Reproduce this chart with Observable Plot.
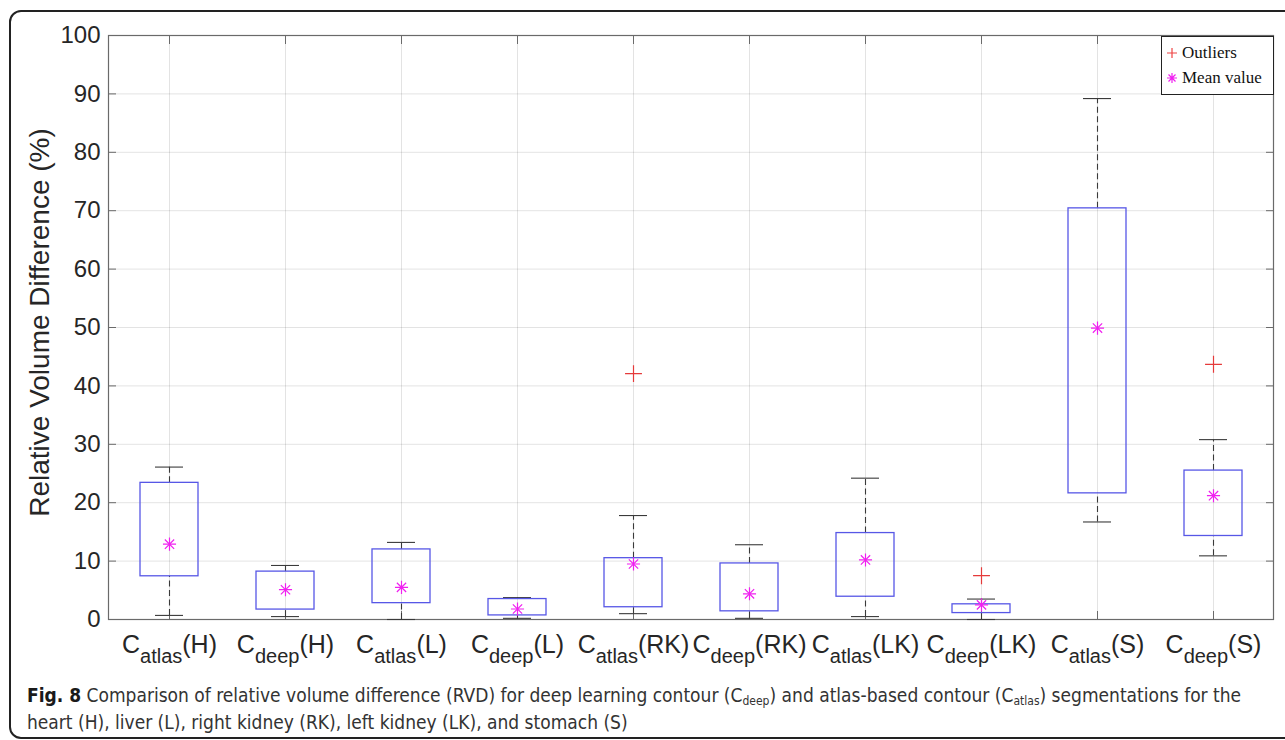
<!DOCTYPE html>
<html>
<head>
<meta charset="utf-8">
<script src="https://cdn.jsdelivr.net/npm/d3@7"></script>
<script src="https://cdn.jsdelivr.net/npm/@observablehq/plot@0.6"></script>
<style>
  body { margin: 0; background: #fff; width: 1285px; height: 740px; overflow: hidden; position: relative; }
  #frame { position: absolute; left: 9px; top: 10px; width: 1300px; height: 729px; border: 2px solid #222; border-radius: 12px; box-sizing: border-box; }
  #chart { position: absolute; left: 0; top: 0; }
  #legend { position: absolute; left: 1161px; top: 36px; width: 113px; height: 59px; border: 1px solid #222; background: #fff; box-sizing: border-box;
            font-family: "Liberation Serif", "Times New Roman", serif; font-size: 17px; color: #111; }
  #legend .row { position: absolute; left: 0; height: 22px; line-height: 22px; white-space: nowrap; }
  #legend svg { position: absolute; left: 4px; top: 5px; }
  #legend span { position: absolute; left: 20px; }
  #caption { position: absolute; left: 27px; top: 682px; width: 1250px; font-family: "Liberation Sans Narrow", "DejaVu Sans Condensed", "Roboto Condensed", sans-serif;
             font-stretch: condensed; font-size: 19px; line-height: 27px; color: #333; }
  #caption b { color: #1a1a1a; }
  #caption sub { font-size: 12px; vertical-align: -3px; line-height: 0; }
</style>
</head>
<body>
<div id="frame"></div>
<div id="chart"></div>
<div id="legend">
  <div class="row" style="top:5px">
    <svg width="12" height="12"><path d="M6,1V11M1,6H11" stroke="#ee4444" stroke-width="1.2" fill="none"/></svg>
    <span>Outliers</span>
  </div>
  <div class="row" style="top:30px">
    <svg width="12" height="12"><path d="M6,1V11M1,6H11M2.5,2.5L9.5,9.5M9.5,2.5L2.5,9.5" stroke="#f020f0" stroke-width="1.2" fill="none"/></svg>
    <span>Mean value</span>
  </div>
</div>
<div id="caption"><b>Fig. 8</b> Comparison of relative volume difference (RVD) for deep learning contour (C<sub>deep</sub>) and atlas-based contour (C<sub>atlas</sub>) segmentations for the heart (H), liver (L), right kidney (RK), left kidney (LK), and stomach (S)</div>
<script>
const categories = ["C_atlas(H)", "C_deep(H)", "C_atlas(L)", "C_deep(L)", "C_atlas(RK)", "C_deep(RK)", "C_atlas(LK)", "C_deep(LK)", "C_atlas(S)", "C_deep(S)"];
const whiskerLow  = [0.7, 0.5, 0.0, 0.2, 1.0, 0.2, 0.5, 0.0, 16.7, 10.9];
const q1          = [7.4, 1.7, 2.8, 0.7, 2.1, 1.4, 3.9, 1.1, 21.6, 14.3];
const q3          = [23.4, 8.2, 12.0, 3.5, 10.5, 9.6, 14.8, 2.6, 70.4, 25.5];
const whiskerHigh = [26.1, 9.25, 13.2, 3.75, 17.8, 12.8, 24.2, 3.5, 89.2, 30.8];
const means       = [12.9, 5.1, 5.5, 1.8, 9.5, 4.4, 10.2, 2.5, 49.9, 21.2];
const outlierCats   = ["C_atlas(RK)", "C_deep(LK)", "C_deep(S)"];
const outlierValues = [42.1, 7.5, 43.7];
const yTicks = [0, 10, 20, 30, 40, 50, 60, 70, 80, 90, 100];

const boxes = categories.map((c, i) => ({cat: c, lo: whiskerLow[i], q1: q1[i], q3: q3[i], hi: whiskerHigh[i], mean: means[i]}));
const outliers = outlierCats.map((c, i) => ({cat: c, v: outlierValues[i]}));

const boxColor = "#5757e6";
const whiskColor = "#3a3a3a";

const chart = Plot.plot({
  width: 1285,
  height: 670,
  marginLeft: 108,
  marginRight: 12,
  marginTop: 35,
  marginBottom: 51,
  style: {fontFamily: "'Liberation Sans', Arial, sans-serif", color: "#262626", background: "transparent"},
  x: {type: "band", domain: categories, padding: 0},
  y: {domain: [0, 100]},
  marks: [
    Plot.gridY(yTicks, {stroke: "#000", strokeOpacity: 0.11}),
    Plot.gridX({stroke: "#000", strokeOpacity: 0.11}),
    Plot.frame({stroke: "#6a6a6a", strokeWidth: 1.2}),
    Plot.axisY(yTicks, {anchor: "left", tickSize: -8, tickPadding: 16, fontSize: 24, stroke: "#6a6a6a",
      label: "Relative Volume Difference (%)", labelAnchor: "center", labelOffset: 79, labelArrow: "none"}),
    Plot.axisY(yTicks, {anchor: "right", tickSize: -8, tickFormat: () => "", label: null, stroke: "#6a6a6a"}),
    Plot.axisX({anchor: "bottom", tickSize: -8, tickPadding: 24, fontSize: 25, label: null, stroke: "#6a6a6a"}),
    Plot.axisX({anchor: "top", tickSize: -8, tickFormat: () => "", label: null, stroke: "#6a6a6a"}),
    Plot.ruleX(boxes, {x: "cat", y1: "q3", y2: "hi", stroke: whiskColor, strokeWidth: 1.1, strokeDasharray: "6,3.5"}),
    Plot.ruleX(boxes, {x: "cat", y1: "lo", y2: "q1", stroke: whiskColor, strokeWidth: 1.1, strokeDasharray: "6,3.5"}),
    Plot.tickY(boxes, {x: "cat", y: "hi", stroke: whiskColor, strokeWidth: 1.1, insetLeft: 44, insetRight: 44}),
    Plot.tickY(boxes, {x: "cat", y: "lo", stroke: whiskColor, strokeWidth: 1.1, insetLeft: 44, insetRight: 44}),
    Plot.barY(boxes, {x: "cat", y1: "q1", y2: "q3", fill: "none", stroke: boxColor, strokeWidth: 1.3, insetLeft: 29, insetRight: 29}),
    Plot.dot(boxes, {x: "cat", y: "mean", symbol: "plus", r: 4.3, stroke: "#f020f0", strokeWidth: 1.2}),
    Plot.dot(boxes, {x: "cat", y: "mean", symbol: "times", r: 4.3, stroke: "#f020f0", strokeWidth: 1.2}),
    Plot.dot(outliers, {x: "cat", y: "v", symbol: "plus", r: 5.5, stroke: "#e53a3a", strokeWidth: 1.2})
  ]
});

document.getElementById("chart").appendChild(chart);

// larger y-axis title, nudged to the reference's centre
chart.querySelectorAll('[aria-label="y-axis label"]').forEach(g => {
  g.setAttribute("font-size", "28");
  g.querySelectorAll("text").forEach(t => t.setAttribute("font-size", "28"));
  g.setAttribute("transform", (g.getAttribute("transform") || "") + " translate(0,-5)");
});

// subscripted category labels
chart.querySelectorAll('[aria-label="x-axis tick label"] text').forEach(t => {
  const s = t.textContent;
  const m = s.match(/^C_(\w+)(\(.*\))$/);
  if (!m) return;
  t.textContent = "";
  const ns = "http://www.w3.org/2000/svg";
  const a = document.createElementNS(ns, "tspan"); a.textContent = "C";
  const b = document.createElementNS(ns, "tspan"); b.textContent = m[1];
  b.setAttribute("font-size", "20"); b.setAttribute("dy", "10");
  const c = document.createElementNS(ns, "tspan"); c.textContent = m[2];
  c.setAttribute("dy", "-10");
  t.append(a, b, c);
});
</script>
</body>
</html>
